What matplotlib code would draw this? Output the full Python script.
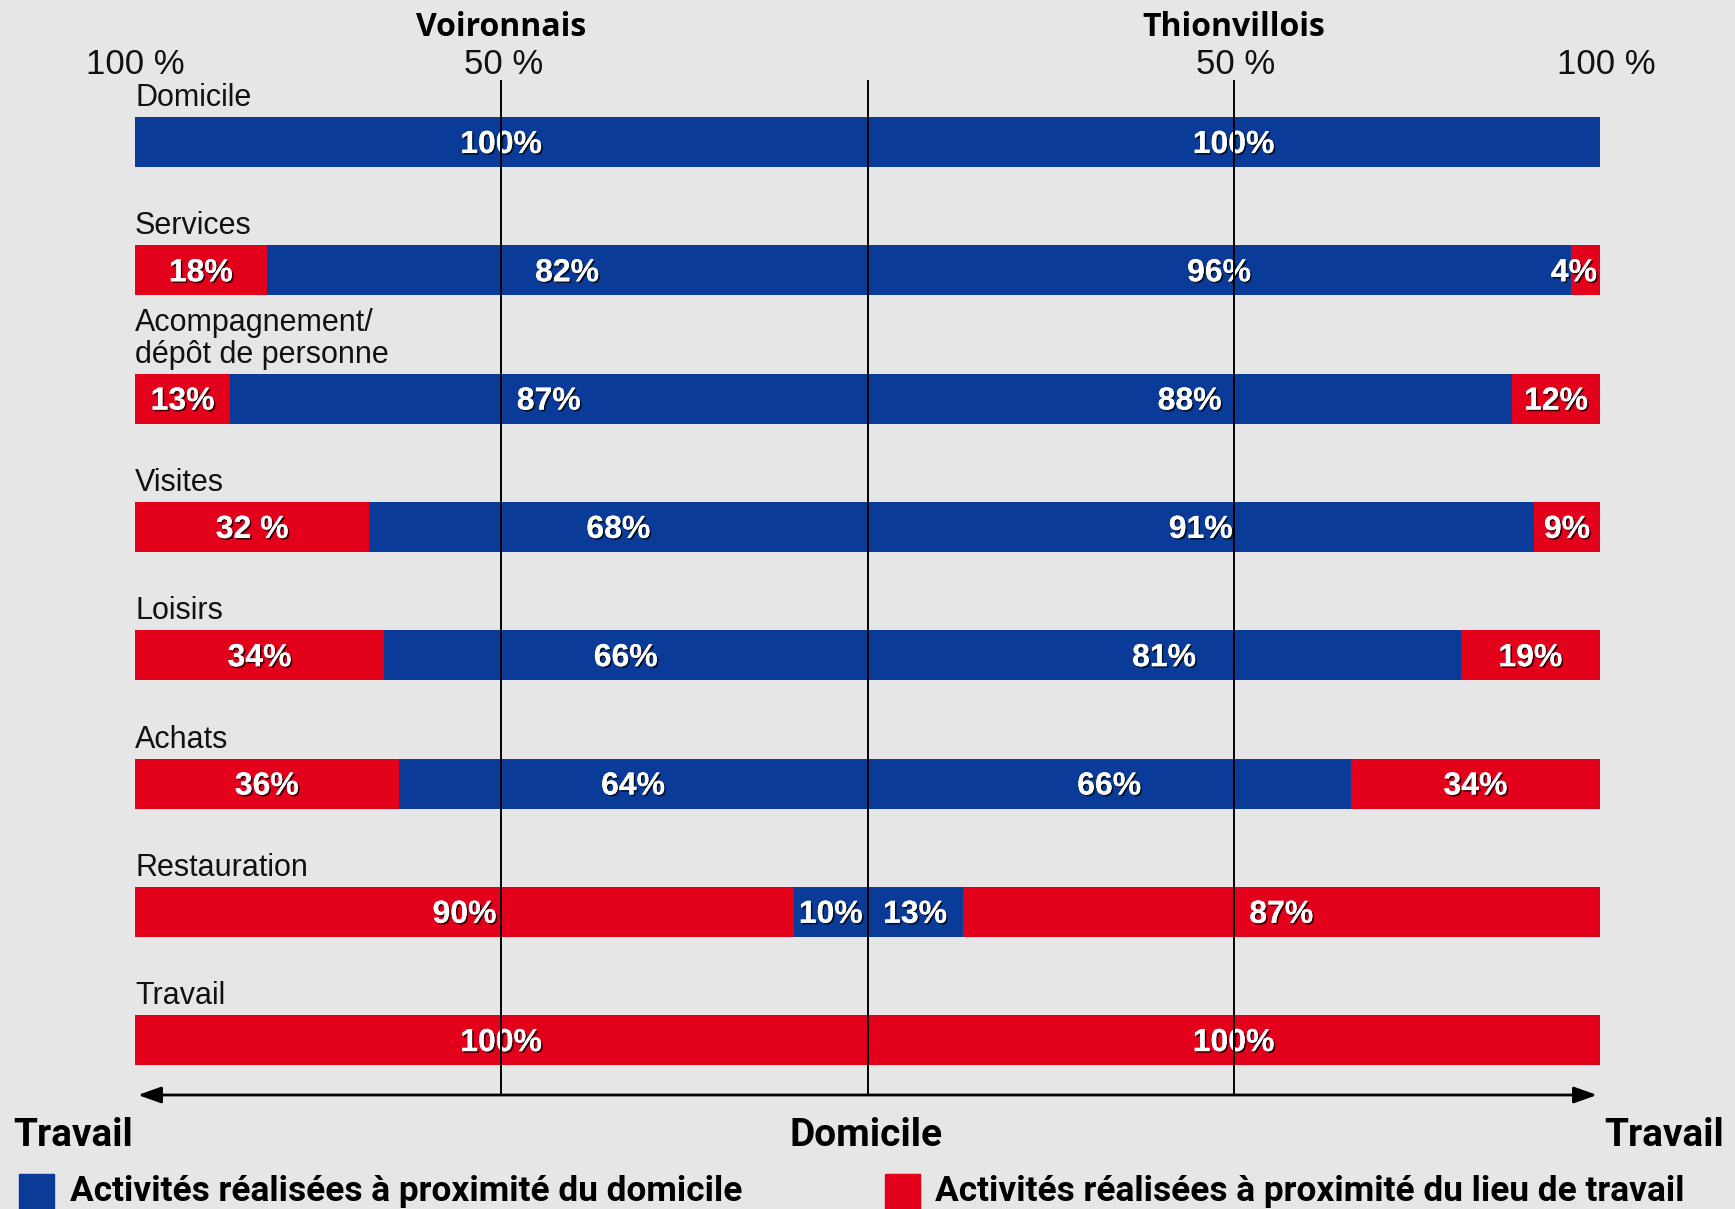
import matplotlib
matplotlib.use("Agg")
import matplotlib.pyplot as plt
import matplotlib.patheffects as pe

# ---------------- data ----------------
categories = ["Domicile", "Services", "Acompagnement/\ndépôt de personne", "Visites",
              "Loisirs", "Achats", "Restauration", "Travail"]
voir_dom = [100, 82, 87, 68, 66, 64, 10, 0]
voir_trav = [0, 18, 13, 32, 34, 36, 90, 100]
thion_dom = [100, 96, 88, 91, 81, 66, 13, 0]
thion_trav = [0, 4, 12, 9, 19, 34, 87, 100]
voir_trav_labels = ["", "18%", "13%", "32 %", "34%", "36%", "90%", "100%"]
axis_ticks = ["100 %", "50 %", "50 %", "100 %"]
regions = ["Voironnais", "Thionvillois"]
legend_labels = ["Activités réalisées à proximité du domicile",
                 "Activités réalisées à proximité du lieu de travail"]
bottom_labels = ["Travail", "Domicile", "Travail"]

BLUE = "#0a3b98"
RED = "#e2001a"
BG = "#e6e6e6"

W, H = 1735, 1209
fig = plt.figure(figsize=(W / 100, H / 100), dpi=100, facecolor=BG)
L_PX, R_PX = 135, 1600
ax = fig.add_axes([L_PX / W, 0, (R_PX - L_PX) / W, 1])
ax.set_facecolor(BG)
ax.set_xlim(-100, 100)
ax.set_ylim(H, 0)
ax.axis("off")


def px2x(px):
    return (px - L_PX) / (R_PX - L_PX) * 200 - 100


row0, step, bh = 142, 128.3, 50
shadow = [pe.withSimplePatchShadow(offset=(1.2, -1.2), shadow_rgbFace="black", alpha=0.7),
          pe.Normal()]
cat_font = dict(family="Liberation Sans", fontsize=22, color="#111111")
val_font = dict(family="Liberation Sans", fontsize=23, fontweight="bold", color="white",
                va="center", path_effects=shadow, zorder=5)


def seg_label(x0, x1, y, text):
    width = abs(x1 - x0)
    if width < 8:  # narrow end segment: keep text inside the bar
        edge = x1 if abs(x1) > abs(x0) else x0
        ax.text(edge - 0.4 * (1 if edge > 0 else -1), y, text,
                ha="right" if edge > 0 else "left", **val_font)
    else:
        ax.text((x0 + x1) / 2, y, text, ha="center", **val_font)


for i, cat in enumerate(categories):
    y = row0 + i * step
    vd, vt, td, tt = voir_dom[i], voir_trav[i], thion_dom[i], thion_trav[i]
    ax.barh(y, -vd, left=0, height=bh, color=BLUE, zorder=2)
    ax.barh(y, -vt, left=-vd, height=bh, color=RED, zorder=2)
    ax.barh(y, td, left=0, height=bh, color=BLUE, zorder=2)
    ax.barh(y, tt, left=td, height=bh, color=RED, zorder=2)
    ty = y + 3
    if vd:
        seg_label(0, -vd, ty, f"{vd}%")
    if vt:
        seg_label(-vd, -vd - vt, ty, voir_trav_labels[i])
    if td:
        seg_label(0, td, ty, f"{td}%")
    if tt:
        seg_label(td, td + tt, ty, f"{tt}%")
    ax.text(-100, y - bh / 2 - 4, cat, ha="left", va="bottom", linespacing=1.05, **cat_font)

# vertical reference lines
for xv in (-50, 0, 50):
    ax.plot([xv, xv], [80, 1095], color="black", lw=1.4, zorder=6, solid_capstyle="butt")

# double arrow
ax.annotate("", xy=(px2x(138), 1095), xytext=(px2x(1597), 1095),
            arrowprops=dict(arrowstyle="<|-|>,head_length=1.4,head_width=0.5",
                            color="black", lw=2, shrinkA=0, shrinkB=0), zorder=6)

# top labels
tick_font = dict(family="Liberation Sans", fontsize=25, color="#111111", ha="center", va="center")
for xv, px_off, lab in zip((-100, -50, 50, 100), (0, 0.3, 0.3, 0.8), axis_ticks):
    ax.text(xv + px_off, 64, lab, clip_on=False, **tick_font)
for xv, lab in zip((-50, 50), regions):
    ax.text(xv, 27, lab, family="Open Sans", fontweight="bold", fontsize=23,
            color="black", ha="center", va="center")

# bottom labels
bfont = dict(family="Roboto", fontsize=28, fontweight="bold", color="black", va="center")
fig.text(13 / W, 1 - 1135 / H, bottom_labels[0], ha="left", **bfont)
fig.text(866 / W, 1 - 1135 / H, bottom_labels[1], ha="center", **bfont)
fig.text(1724 / W, 1 - 1135 / H, bottom_labels[2], ha="right", **bfont)

# legend
for sx, tx, col, lab in ((19, 70, BLUE, legend_labels[0]), (885, 935, RED, legend_labels[1])):
    fig.patches.append(plt.Rectangle((sx / W, 0), 35 / W, 35 / H, transform=fig.transFigure,
                                     color=col, zorder=3))
    fig.text(tx / W, 1 - 1192 / H, lab, ha="left", **{**bfont, "fontsize": 25.4})

fig.savefig("out.png", dpi=100, facecolor=BG)
